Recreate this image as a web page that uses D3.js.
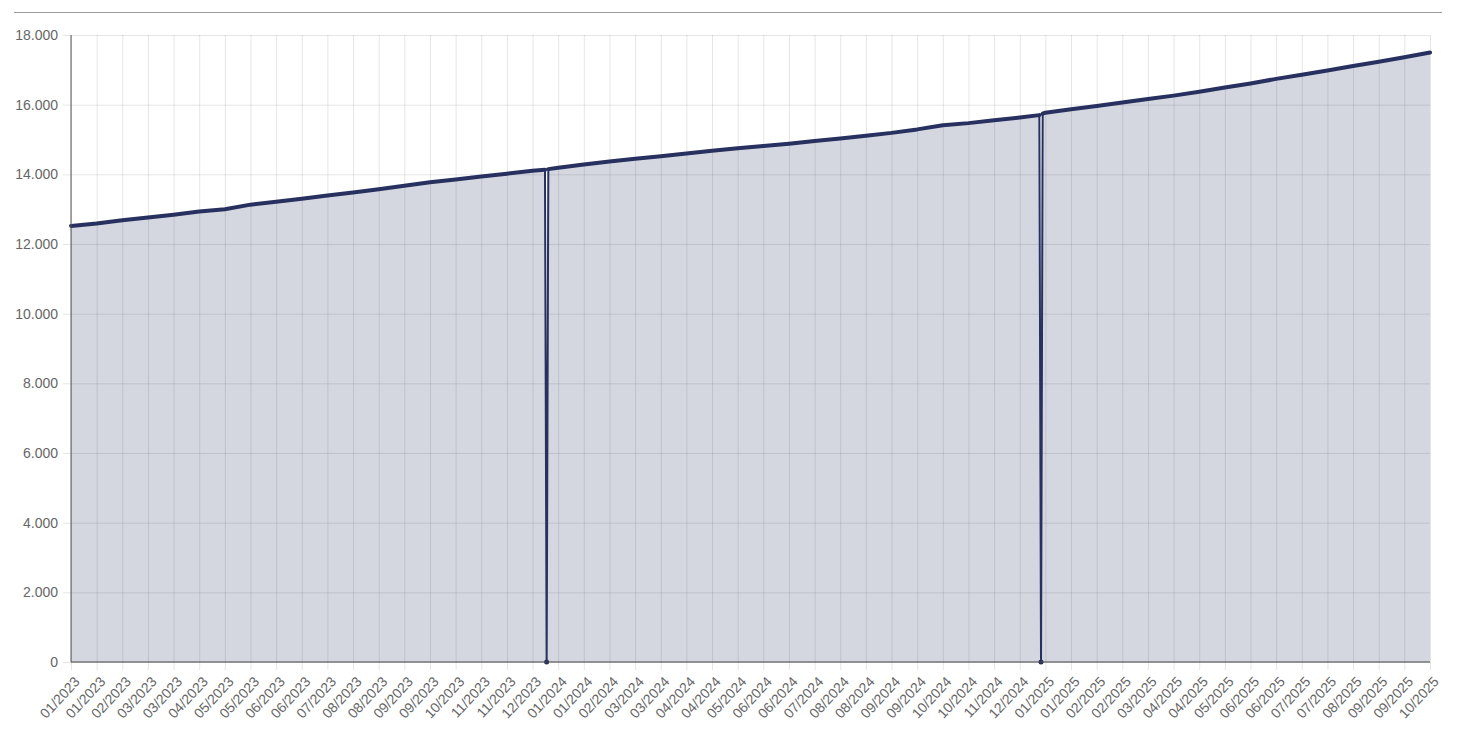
<!DOCTYPE html>
<html>
<head>
<meta charset="utf-8">
<script src="https://cdn.jsdelivr.net/npm/d3@7"></script>
<style>
  body { margin: 0; background: #fff; }
  svg text { font-family: "Liberation Sans", Arial, sans-serif; }
</style>
</head>
<body>
<script>
// tick labels along the x axis (one per shown category)
var labels = ["01/2023","01/2023","02/2023","03/2023","03/2023","04/2023","05/2023","05/2023","06/2023","06/2023",
  "07/2023","08/2023","08/2023","09/2023","09/2023","10/2023","11/2023","11/2023","12/2023","01/2024",
  "01/2024","02/2024","03/2024","03/2024","04/2024","04/2024","05/2024","06/2024","06/2024","07/2024",
  "08/2024","08/2024","09/2024","09/2024","10/2024","10/2024","11/2024","12/2024","01/2025","01/2025",
  "02/2025","02/2025","03/2025","04/2025","04/2025","05/2025","06/2025","06/2025","07/2025","07/2025",
  "08/2025","09/2025","09/2025","10/2025"];

// value at each label
var values = [12520,12590,12680,12760,12840,12930,13000,13130,13210,13300,
  13390,13480,13570,13670,13770,13850,13940,14020,14100,14190,
  14280,14370,14450,14520,14600,14680,14750,14810,14880,14960,
  15030,15110,15190,15290,15410,15470,15550,15630,15770,15870,
  15960,16060,16160,16260,16370,16490,16610,16740,16860,16980,
  17110,17230,17360,17500];

// the two days where the series drops to zero (position in label units)
var resets = [
  {at: 18.55, before: 14130, after: 14150},
  {at: 37.83, before: 15700, after: 15740}
];

var yTicks = [0,2000,4000,6000,8000,10000,12000,14000,16000,18000];

var width = 1474, height = 735;
var plotLeft = 71, plotRight = 1430, plotTop = 35, plotBottom = 662;

var de = d3.formatLocale({decimal: ",", thousands: ".", grouping: [3], currency: ["", "€"]});
var fmt = de.format(",");

var svg = d3.select('body').append('svg')
  .attr('width', width)
  .attr('height', height);

var x = d3.scaleLinear().domain([0, labels.length - 1]).range([plotLeft, plotRight]);
var y = d3.scaleLinear().domain([0, 18000]).range([plotBottom, plotTop]);

// build series
var series = values.map(function(v, i){ return {x: i, v: v}; });
resets.forEach(function(r){
  series.push({x: r.at - 0.065, v: r.before});
  series.push({x: r.at, v: 0});
  series.push({x: r.at + 0.065, v: r.after});
});
series.sort(function(a, b){ return a.x - b.x; });

// top rule
svg.append('line')
  .attr('x1', 14).attr('x2', 1442)
  .attr('y1', 12.5).attr('y2', 12.5)
  .attr('stroke', '#9a9a9a');

// y grid + labels
var yAxis = svg.append('g')
  .attr('transform', 'translate(' + (plotLeft - 8) + ',0)')
  .call(d3.axisLeft(y).tickValues(yTicks).tickFormat(fmt)
    .tickSize(-(plotRight - plotLeft + 8)).tickPadding(5));
yAxis.select('.domain').remove();
yAxis.selectAll('line').attr('stroke', 'rgba(0,0,0,0.1)');
yAxis.selectAll('text').attr('fill', '#666').attr('font-size', 14);

// x grid
var xGrid = svg.append('g')
  .attr('transform', 'translate(0,' + (plotBottom + 8) + ')')
  .call(d3.axisBottom(x).tickValues(d3.range(labels.length)).tickFormat('')
    .tickSize(-(plotBottom + 8 - plotTop)));
xGrid.select('.domain').remove();
xGrid.selectAll('line').attr('stroke', 'rgba(0,0,0,0.1)');

// x labels
svg.append('g').selectAll('text')
  .data(labels)
  .enter().append('text')
  .attr('transform', function(d, i){ return 'translate(' + (x(i) + 6) + ',' + (plotBottom + 17) + ') rotate(-47)'; })
  .attr('text-anchor', 'end')
  .attr('dy', '0.35em')
  .attr('fill', '#666')
  .attr('font-size', 14)
  .text(function(d){ return d; });

// area
var area = d3.area()
  .x(function(d){ return x(d.x); })
  .y0(y(0))
  .y1(function(d){ return y(d.v); });

svg.append('path')
  .datum(series)
  .attr('d', area)
  .attr('fill', 'rgba(38,49,99,0.2)');

// thin line through everything (incl. the drops)
var line = d3.line()
  .x(function(d){ return x(d.x); })
  .y(function(d){ return y(d.v); });

svg.append('path')
  .datum(series)
  .attr('d', line)
  .attr('fill', 'none')
  .attr('stroke', '#27305f')
  .attr('stroke-width', 2);

// thick line on the running values
svg.append('path')
  .datum(series)
  .attr('d', line.defined(function(d){ return d.v > 0; }))
  .attr('fill', 'none')
  .attr('stroke', '#27305f')
  .attr('stroke-width', 4)
  .attr('stroke-linecap', 'round')
  .attr('stroke-linejoin', 'round');

// dots at zero
svg.append('g').selectAll('circle')
  .data(series.filter(function(d){ return d.v === 0; }))
  .enter().append('circle')
  .attr('cx', function(d){ return x(d.x); })
  .attr('cy', function(d){ return y(d.v); })
  .attr('r', 2.5)
  .attr('fill', '#27305f');

// axis lines
svg.append('line')
  .attr('x1', plotLeft).attr('x2', plotLeft)
  .attr('y1', plotTop).attr('y2', plotBottom)
  .attr('stroke', '#555');
svg.append('line')
  .attr('x1', plotLeft).attr('x2', plotRight)
  .attr('y1', plotBottom).attr('y2', plotBottom)
  .attr('stroke', '#444');
</script>
</body>
</html>
